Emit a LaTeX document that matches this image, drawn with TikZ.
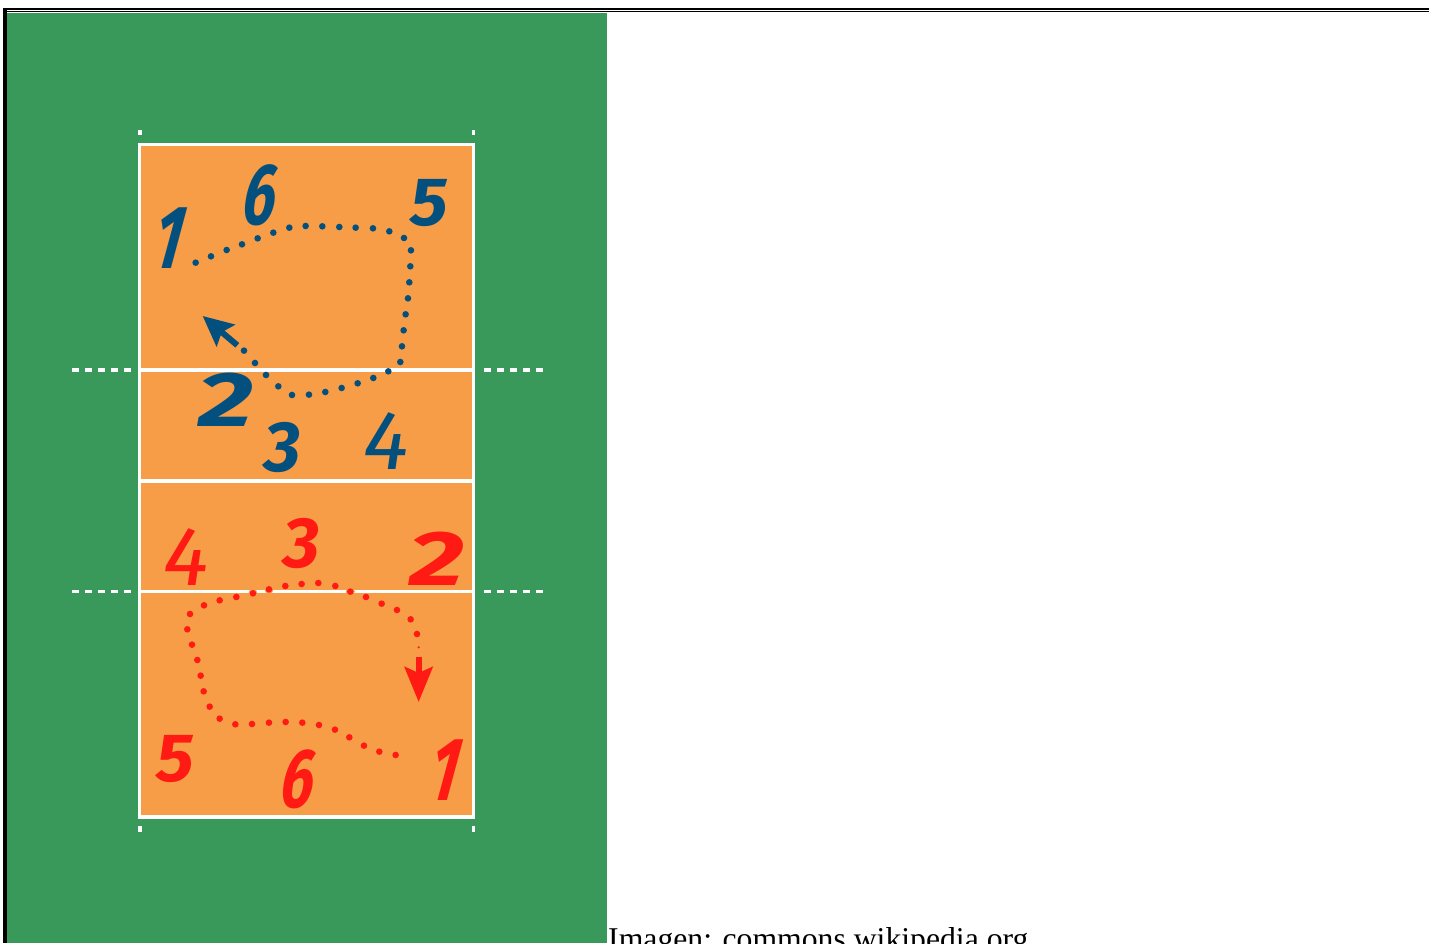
\documentclass[tikz,border=0pt]{standalone}
\usepackage{fontspec}
\setmainfont{Liberation Serif}
\newfontfamily\digitfont{Fira Sans}
\usetikzlibrary{arrows.meta}
\definecolor{floorgreen}{HTML}{38995A}
\definecolor{courtorange}{HTML}{F79C47}
\definecolor{teamblue}{HTML}{03507F}
\definecolor{teamred}{HTML}{FF1A14}
\tikzset{
	courtline/.style={white,line width=3.2pt},
	outerdash/.style={white,line width=3.6pt,dash pattern=on 6.5pt off 6.5pt},
	digit/.style={font=\digitfont\bfseries\itshape\fontsize{62}{62}\selectfont,inner sep=0pt},
	thindigit/.style={font=\digitfont\itshape\fontsize{62}{62}\selectfont,inner sep=0pt},
}
\begin{document}
\begin{tikzpicture}[x=1pt,y=-1pt,>=stealth]
	\useasboundingbox (0,0) rectangle (1429,943);
	\clip (0,0) rectangle (1429,943);
	\fill[white] (0,0) rectangle (1429,943);
	% page rules
	\fill[black] (3.3,8) rectangle (1429,10);
	\fill[black] (5,11) rectangle (1429,12);
	\fill[black] (3.3,8) rectangle (7,943);
	\fill[floorgreen] (7,12.7) rectangle (607,943);
	% court
	\fill[courtorange] (139.5,144.5) rectangle (473.5,817);
	\draw[courtline] (139.5,144.5) rectangle (473.5,817);
	\draw[courtline] (139.5,370)--(473.5,370);
	\draw[courtline] (139.5,481)--(473.5,481);
	\draw[courtline] (139.5,591.5)--(473.5,591.5);
	\foreach \yy in {370,591.5}{
		\draw[outerdash] (72,\yy)--(133,\yy);
		\draw[outerdash] (484,\yy)--(545,\yy);
	}
	\foreach \xx in {140,473.5}{
		\fill[white] (\xx-1.8,129.5) rectangle (\xx+1.8,135);
		\fill[white] (\xx-1.8,826) rectangle (\xx+1.8,832);
	}
	% blue rotation
	\begin{scope}[shift={(130,150)},x=0.3333pt,y=-0.3333pt]
		\foreach \px/\py in {197/338,243/319,290/300,336/283,383/265,430/248,478/233,527/228,577/229,628/231,677/233,729/235,778/244,822/264,843/301,841/349,838/397,834/445,827/493,821/541,816/589,811/636,775/664,730/684,683/700,635/714,586/726,537/734,486/735,445/709,408/675,375/639,342/602}
			\fill[teamblue] (\px,\py) circle (3.3pt);
		\coordinate (bluetail) at (322,586);
		\coordinate (bluetip) at (218,498);
		\draw[teamblue,line width=6pt,-{Stealth[length=30pt,width=28pt,inset=5pt]}] (bluetail)--(bluetip);
	\end{scope}
	% red rotation
	\begin{scope}[shift={(130,490)},x=0.3333pt,y=-0.3333pt]
		\foreach \px/\py in {369/310,417/298,661/305}
			\fill[courtorange] (\px,\py) circle (4.5pt);
		\foreach \px/\py in {797/795,748/785,702/767,658/742,615/719,567/705,517/698,467/696,417/698,366/702,316/703,269/686,239/650,221/604,212/557,202/510,186/464,172/418,180/372,222/346,269/331,319/321,369/310,417/298,466/288,515/282,565/279,616/288,661/305,708/321,755/341,801/360,842/388,861/432}
			\fill[teamred] (\px,\py) circle (3.3pt);
		\fill[teamred] (866,472) circle (1.2pt);
		\coordinate (redtail) at (866,500);
		\coordinate (redtip) at (866,636);
		\draw[teamred,line width=6pt,-{Stealth[length=35pt,width=28pt,inset=6pt]}] (redtail)--(redtip);
	\end{scope}
	% blue numbers
	\node[digit,teamblue,xscale=1,yscale=1.45,xslant=.25] (blueone) at (170,238) {1};
	\node[digit,teamblue,xscale=.95,yscale=1.4,xslant=.15] (bluesix) at (261,195) {6};
	\node[digit,teamblue,xscale=1.15,yscale=1.1] (bluefive) at (429,203) {5};
	\node[digit,teamblue,xscale=1.75,yscale=1.25] (bluetwo) at (226,400) {2};
	\node[digit,teamblue,xscale=1.15,yscale=1.15] (bluethree) at (283,447) {3};
	\node[thindigit,teamblue,xscale=1.4,yscale=1.35] (bluefour) at (386,441) {4};
	% red numbers
	\node[thindigit,teamred,xscale=1.4,yscale=1.35] (redfour) at (186,557) {4};
	\node[digit,teamred,xscale=1.15,yscale=1.15] (redthree) at (302,543) {3};
	\node[digit,teamred,xscale=1.75,yscale=1.25] (redtwo) at (437,559) {2};
	\node[digit,teamred,xscale=1.15,yscale=1.1] (redfive) at (175,759) {5};
	\node[digit,teamred,xscale=.95,yscale=1.35,xslant=.15] (redsix) at (299,779) {6};
	\node[digit,teamred,xscale=1,yscale=1.45,xslant=.25] (redone) at (446,770) {1};
	% caption
	\node[anchor=base west,inner sep=0pt,font=\fontsize{31.7}{32}\selectfont] (caption) at (608,949) {Imagen: commons.wikipedia.org};
\end{tikzpicture}
\end{document}
